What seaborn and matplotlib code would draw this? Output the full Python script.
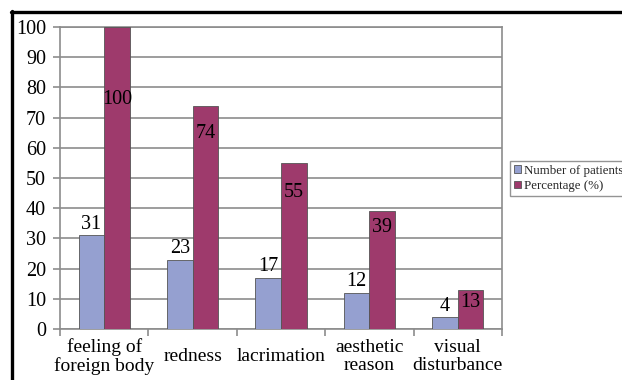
import matplotlib
matplotlib.use("Agg")
import matplotlib.pyplot as plt
from matplotlib.lines import Line2D
from matplotlib.patches import Patch
import seaborn as sns
import pandas as pd

# Symptoms reported by patients
symptoms = ["feeling of\nforeign body", "redness", "lacrimation",
            "aesthetic\nreason", "visual\ndisturbance"]
num_patients = [31, 23, 17, 12, 4]
percentage = [100, 74, 55, 39, 13]
series_names = ["Number of patients", "Percentage (%)"]
y_ticks = [0, 10, 20, 30, 40, 50, 60, 70, 80, 90, 100]

df = pd.DataFrame({
    "symptom": symptoms * 2,
    "value": num_patients + percentage,
    "series": [series_names[0]] * len(symptoms) + [series_names[1]] * len(symptoms),
})

colors = ["#95a0d0", "#9e3a6c"]
grid_col = "#8c8c8c"

sns.set_theme(style="white")
plt.rcParams["font.family"] = ["Liberation Serif", "DejaVu Serif"]

fig = plt.figure(figsize=(6.22, 3.80), dpi=100)
fig.patch.set_facecolor("white")
ax = fig.add_axes([60 / 622, 51 / 380, 442 / 622, 302 / 380])

sns.barplot(data=df, x="symptom", y="value", hue="series", palette=colors,
            width=0.58, gap=0, edgecolor="#555555", linewidth=0.6,
            saturation=1, legend=False, ax=ax, zorder=3)

ax.set_ylim(0, 100)
ax.set_xlim(-0.5, len(symptoms) - 0.5)
ax.set_yticks(y_ticks)
ax.set_yticklabels([str(v) for v in y_ticks], fontsize=14.5, color="black")
ax.set_xlabel("")
ax.set_ylabel("")

# grid and frame
ax.yaxis.grid(True, color=grid_col, linewidth=1.2, zorder=0)
ax.set_axisbelow(True)
for s in ax.spines.values():
    s.set_color(grid_col)
    s.set_linewidth(1.2)
ax.tick_params(axis="y", which="major", length=5, width=1.2, color=grid_col,
               direction="out", left=True, pad=5)

# category ticks sit between groups
ax.set_xticks(range(len(symptoms)))
ax.set_xticks([i - 0.5 for i in range(len(symptoms) + 1)], minor=True)
ax.tick_params(axis="x", which="major", length=0, pad=20)
ax.tick_params(axis="x", which="minor", length=5, width=1.2, color=grid_col,
               direction="out", bottom=True)
ax.set_xticklabels(symptoms, fontsize=14, color="black", linespacing=1.05)
for lbl in ax.get_xticklabels():
    lbl.set_verticalalignment("center")

# value labels
bars_n = ax.containers[0]
bars_p = ax.containers[1]
for rect, v in zip(bars_n, num_patients):
    ax.annotate(str(v), (rect.get_x() + rect.get_width() / 2, rect.get_height()),
                xytext=(0, 1), textcoords="offset points", ha="center",
                va="bottom", fontsize=14.5, color="black", zorder=5)
pct_label_drop = [52, 20, 21, 12, 9]
for rect, v, d in zip(bars_p, percentage, pct_label_drop):
    ax.annotate(str(v), (rect.get_x() + rect.get_width() / 2, rect.get_height()),
                xytext=(0, -d), textcoords="offset points", ha="center",
                va="center", fontsize=14.5, color="black", zorder=5)

# legend
handles = [Patch(facecolor=c, edgecolor="#555555", linewidth=0.6) for c in colors]
leg = fig.legend(handles, series_names, loc="upper left",
                 bbox_to_anchor=(510 / 622, 1 - 161 / 380),
                 fontsize=9.3, frameon=True, fancybox=False,
                 handlelength=0.55, handleheight=0.55, handletextpad=0.2,
                 borderpad=0.3, labelspacing=0.25, borderaxespad=0)
leg.get_frame().set_edgecolor("#7a7a7a")
leg.get_frame().set_linewidth(1.0)

# black outer frame on top and left
fig.add_artist(Line2D([11 / 622, 1.0], [1 - 11.5 / 380, 1 - 11.5 / 380],
                      color="black", linewidth=2.4, transform=fig.transFigure))
fig.add_artist(Line2D([11.5 / 622, 11.5 / 622], [0, 1 - 10.5 / 380],
                      color="black", linewidth=2.4, transform=fig.transFigure))

fig.savefig("out.png", dpi=100)
